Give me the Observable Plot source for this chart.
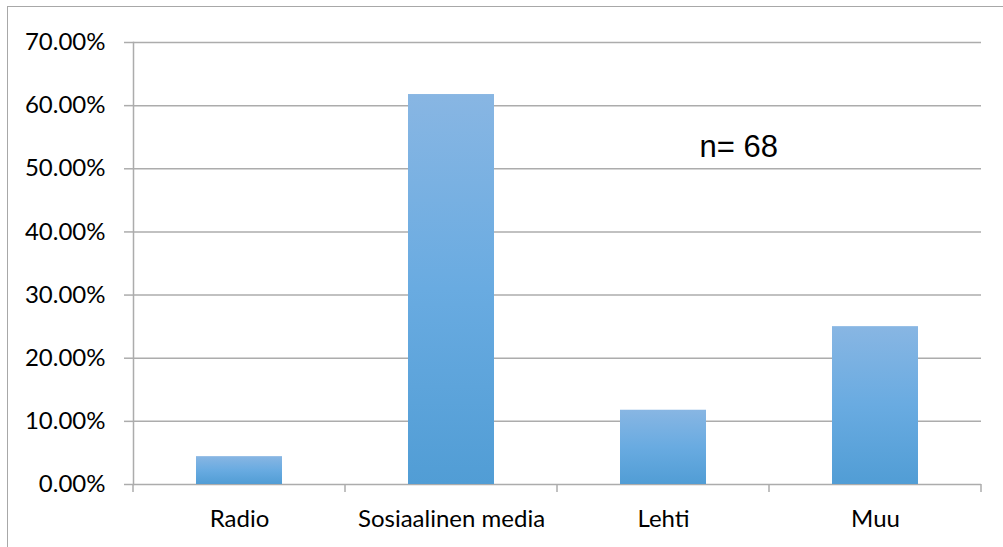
<!DOCTYPE html>
<html>
<head>
<meta charset="utf-8">
<script src="https://cdn.jsdelivr.net/npm/d3@7"></script>
<script src="https://cdn.jsdelivr.net/npm/@observablehq/plot@0.6"></script>
<style>
  html, body { margin: 0; padding: 0; background: #fff; overflow: hidden; }
  #wrap { position: relative; width: 1003px; height: 547px; }
  #border { position: absolute; left: 7px; top: 6px; right: -10px; bottom: -10px;
            border-left: 1.5px solid #a8a8a8; border-top: 1.5px solid #a8a8a8; pointer-events: none; }
  #chart { position: absolute; left: 0; top: 0; }
</style>
</head>
<body>
<div id="wrap"><div id="chart"></div><div id="border"></div></div>
<script>
const categories = ["Radio", "Sosiaalinen media", "Lehti", "Muu"];
const shares = [0.0441, 0.6176, 0.1176, 0.25];
const yTicks = [0, 0.1, 0.2, 0.3, 0.4, 0.5, 0.6, 0.7];
const noteText = ["n= 68"];

const data = categories.map((c, i) => ({category: c, share: shares[i]}));
const gridColor = "#acacac";

const gradientDefs = () => {
  const defs = d3.create("svg:defs");
  const g = defs.append("linearGradient").attr("id", "barGrad")
    .attr("x1", 0).attr("y1", 0).attr("x2", 0).attr("y2", 1);
  g.append("stop").attr("offset", "0%").attr("stop-color", "#88b6e3");
  g.append("stop").attr("offset", "50%").attr("stop-color", "#69abe1");
  g.append("stop").attr("offset", "100%").attr("stop-color", "#519dd5");
  return defs.node();
};

const boundaryTicks = (index, scales) => {
  const x = scales.x, y0 = scales.y(0);
  const step = x.step(), bw = x.bandwidth();
  const xs = categories.map(c => x(c) + bw / 2 - step / 2);
  xs.push(x(categories[categories.length - 1]) + bw / 2 + step / 2);
  const g = d3.create("svg:g").attr("stroke", gridColor).attr("stroke-width", 1.5);
  for (const v of xs) {
    g.append("line").attr("x1", v).attr("x2", v).attr("y1", y0).attr("y2", y0 + 8);
  }
  return g.node();
};

const chart = Plot.plot({
  width: 1003,
  height: 547,
  marginLeft: 133,
  marginRight: 22,
  marginTop: 42,
  marginBottom: 63,
  style: {fontFamily: "Lato, 'Open Sans', sans-serif", fontSize: "24px", color: "#000", background: "transparent"},
  x: {domain: categories, paddingInner: 0.594, paddingOuter: 0.297, label: null},
  y: {domain: [0, 0.7], label: null},
  marks: [
    gradientDefs,
    Plot.ruleY(yTicks, {stroke: gridColor, strokeWidth: 1.5}),
    Plot.frame({anchor: "left", stroke: gridColor, strokeWidth: 1.5}),
    Plot.barY(data, {x: "category", y: "share", fill: "url(#barGrad)"}),
    Plot.axisY(yTicks, {tickFormat: d3.format(".2%"), tickSize: 9, tickPadding: 19,
                        stroke: gridColor, strokeWidth: 1.5, fill: "#000", label: null}),
    Plot.axisX({tickSize: 0, tickPadding: 25, fill: "#000", label: null}),
    boundaryTicks,
    Plot.text(noteText, {x: () => "Lehti", y: () => 0.535, dx: 36, text: d => d,
                         textAnchor: "start", lineAnchor: "middle",
                         fontFamily: "'Liberation Sans', Arial, sans-serif", fontSize: 31, fill: "#000"})
  ]
});
document.getElementById("chart").appendChild(chart);
</script>
</body>
</html>
